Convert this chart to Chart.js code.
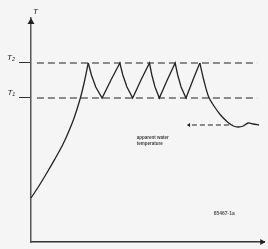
<!DOCTYPE html>
<html>
<head>
<meta charset="utf-8">
<script src="https://cdn.jsdelivr.net/npm/chart.js@4/dist/chart.umd.min.js"></script>
<style>
html,body{margin:0;padding:0;background:#f5f5f5;}
canvas{display:block;}
</style>
</head>
<body>
<canvas id="c" width="268" height="249"></canvas>
<script>
// ---- data (time in arbitrary units, temperature in arbitrary units) ----
const heatTime = [0,4,8,12,16,19,22,25,27,29];
const heatTemp = [22,28,34.5,41.3,48.5,55,62.5,72,80,89.5];
const cycleTime = [29,30.6,32.8,36,40.5,45,
  46.5,48.6,51.5,55.7,60,
  61.2,62.8,65,69,73,
  74.3,76,78.5,82,85.5];
const cycleTemp = [89.5,83.5,77.5,72,81,89.5,
  83.5,77.5,72,81,89.5,
  83.5,77.5,72,81,89.5,
  83.5,77.5,72,81,89.5];
const coolTime = [85.5,87.5,90,93,96,99.5,102.5,105,107.5,110,112.5,115.5];
const coolTemp = [89.5,81,72.5,67.5,63.5,60,58,57.5,58,59.5,59,58.5];
const T1 = 72;
const T2 = 89.5;
const levelSpan = [3, 114.5];
const waterTemp = 58.5;
const waterSpan = [81.5, 102];
const tickLabels = {72: 'T\u2081', 89.5: 'T\u2082'};
const axisMax = {x: 118, y: 112};

const toPts = (xs, ys) => xs.map((x, i) => ({x, y: ys[i]}));

const textPlugin = {
  id: 'texts',
  afterDraw(chart) {
    const {ctx, scales: {x, y}} = chart;
    ctx.save();
    ctx.fillStyle = '#222';
    ctx.font = 'italic 8px "Liberation Sans"';
    ctx.textAlign = 'left';
    ctx.textBaseline = 'middle';
    ctx.fillText('T', x.getPixelForValue(1), y.getPixelForValue(115));
    ctx.fillStyle = '#444';
    ctx.font = 'bold 4.5px "Liberation Sans"';
    ctx.fillText('apparent water', x.getPixelForValue(53.5), y.getPixelForValue(52));
    ctx.fillText('temperature', x.getPixelForValue(53.5), y.getPixelForValue(49));
    ctx.font = 'bold 5px "Liberation Sans"';
    ctx.fillStyle = '#555';
    ctx.fillText('85467-1a', x.getPixelForValue(92.5), y.getPixelForValue(14));
    ctx.restore();
  }
};

const curveStyle = {borderColor: '#222', borderWidth: 1.3, pointRadius: 0};
const dashStyle = {borderColor: '#222', borderWidth: 1.1, pointRadius: 0};
const arrowStyle = {showLine: false, pointStyle: 'triangle', backgroundColor: '#222', borderColor: '#222', borderWidth: 0};

new Chart(document.getElementById('c'), {
  type: 'line',
  data: {
    datasets: [
      Object.assign({data: toPts(heatTime, heatTemp), tension: 0.3}, curveStyle),
      Object.assign({data: toPts(cycleTime, cycleTemp), tension: 0}, curveStyle),
      Object.assign({data: toPts(coolTime, coolTemp), tension: 0.3}, curveStyle),
      Object.assign({data: toPts(levelSpan, [T2, T2]), borderDash: [7, 4]}, dashStyle),
      Object.assign({data: toPts(levelSpan, [T1, T1]), borderDash: [7, 4]}, dashStyle),
      Object.assign({data: toPts(waterSpan, [waterTemp, waterTemp]), borderDash: [5, 3]}, dashStyle),
      Object.assign({data: [{x: waterSpan[0] - 1.5, y: waterTemp}], rotation: 270, pointRadius: 2.2}, arrowStyle),
      Object.assign({data: [{x: 0, y: 110}], rotation: 0, pointRadius: 4}, arrowStyle),
      Object.assign({data: [{x: 117, y: 0}], rotation: 90, pointRadius: 3.5}, arrowStyle)
    ]
  },
  options: {
    responsive: false,
    animation: false,
    clip: false,
    layout: {padding: {top: 18, right: 1, left: 0, bottom: 0}},
    plugins: {legend: {display: false}, tooltip: {enabled: false}},
    scales: {
      x: {
        type: 'linear', min: 0, max: axisMax.x,
        ticks: {display: false},
        grid: {display: false},
        border: {display: true, color: '#333', width: 1.5},
        afterFit: s => { s.height = 7; s.paddingLeft = 0; s.paddingRight = 0; }
      },
      y: {
        type: 'linear', min: 0, max: axisMax.y,
        afterBuildTicks: s => { s.ticks = [{value: T1}, {value: T2}]; },
        ticks: {
          padding: 4, color: '#222',
          font: {family: 'Liberation Sans', size: 8, style: 'italic'},
          callback: v => [tickLabels[v] || '', '']
        },
        grid: {drawOnChartArea: false, drawTicks: true, tickLength: 12, color: '#333', lineWidth: 1},
        border: {display: true, color: '#555', width: 1.5},
        afterFit: s => { s.width = 31; s.paddingTop = 0; s.paddingBottom = 0; }
      }
    }
  },
  plugins: [textPlugin]
});
</script>
</body>
</html>
